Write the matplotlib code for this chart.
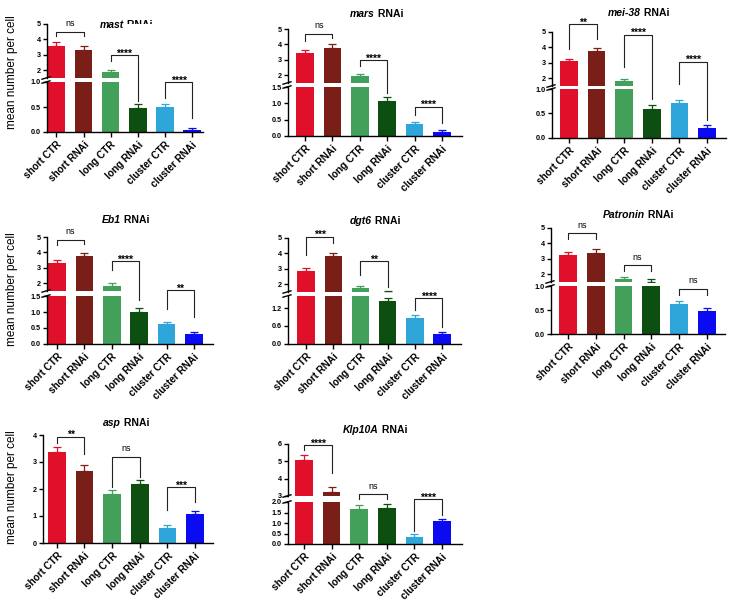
import numpy as np
import matplotlib
matplotlib.use("Agg")
import matplotlib.pyplot as plt
from matplotlib.lines import Line2D
from matplotlib.transforms import IdentityTransform

plt.rcParams["font.family"] = ["Liberation Sans", "DejaVu Sans"]
plt.rcParams["axes.linewidth"] = 1.0

W, H = 732, 604

# ─────────── data ───────────
groups = ["short CTR", "short RNAi", "long CTR", "long RNAi", "cluster CTR", "cluster RNAi"]
bar_colors = ["#e1102a", "#7a1f17", "#43a05b", "#0c4f10", "#2fa6da", "#0b0bf2"]

mast_mean = [3.60, 3.34, 1.90, 0.48, 0.50, 0.04]
mast_err = [0.21, 0.24, 0.10, 0.09, 0.06, 0.04]
mars_mean = [3.43, 3.79, 1.94, 1.06, 0.37, 0.13]
mars_err = [0.19, 0.21, 0.12, 0.12, 0.06, 0.05]
mei38_mean = [3.09, 3.79, 1.82, 0.60, 0.71, 0.21]
mei38_err = [0.16, 0.18, 0.11, 0.08, 0.06, 0.05]
eb1_mean = [3.30, 3.76, 1.85, 1.01, 0.63, 0.31]
eb1_err = [0.18, 0.22, 0.15, 0.13, 0.06, 0.07]
dgt6_mean = [2.84, 3.81, 1.78, 1.42, 0.88, 0.32]
dgt6_err = [0.23, 0.22, 0.13, 0.13, 0.08, 0.07]
patronin_mean = [3.22, 3.40, 1.71, 1.53, 0.62, 0.48]
patronin_err = [0.22, 0.22, 0.13, 0.14, 0.07, 0.07]
asp_mean = [3.36, 2.67, 1.81, 2.20, 0.56, 1.07]
asp_err = [0.18, 0.22, 0.15, 0.15, 0.10, 0.11]
klp10a_mean = [5.05, 3.25, 1.65, 1.73, 0.35, 1.10]
klp10a_err = [0.29, 0.27, 0.19, 0.16, 0.13, 0.09]

# brackets: (bar i, bar j, label, line height, left leg end, right leg end)
mast_sig = [(0, 1, "ns", 4.51, 4.19, 4.19), (2, 3, "****", 2.96, 2.6, 0.62),
            (4, 5, "****", 1.0, 0.69, 0.28)]
mars_sig = [(0, 1, "ns", 4.68, 4.25, 4.43), (2, 3, "****", 2.98, 2.62, 1.31),
            (4, 5, "****", 0.9, 0.65, 0.39)]
mei38_sig = [(0, 1, "**", 5.5, 3.91, 4.56), (2, 3, "****", 4.83, 2.7, 0.79),
             (4, 5, "****", 3.07, 1.6, 0.37)]
eb1_sig = [(0, 1, "ns", 4.83, 4.46, 4.52), (2, 3, "****", 3.42, 2.83, 1.37),
           (4, 5, "**", 1.55, 1.08, 0.85)]
dgt6_sig = [(0, 1, "***", 5.08, 3.88, 4.65), (2, 3, "**", 3.51, 2.6, 1.85),
            (4, 5, "****", 1.53, 1.12, 0.57)]
patronin_sig = [(0, 1, "ns", 4.67, 4.27, 4.27), (2, 3, "ns", 2.6, 2.22, 2.22),
                (4, 5, "ns", 0.94, 0.81, 0.81)]
asp_sig = [(0, 1, "**", 3.94, 3.71, 3.31), (2, 3, "ns", 3.2, 2.09, 2.46),
           (4, 5, "***", 2.06, 1.21, 1.52)]
klp10a_sig = [(0, 1, "****", 5.92, 5.67, 4.3), (2, 3, "ns", 3.1, 2.5, 2.5),
              (4, 5, "****", 2.5, 0.6, 1.4)]

# ─────────── layout (pixel positions in the 732x604 canvas) ───────────
panels = [
    dict(gene="mast", mean=mast_mean, err=mast_err, sig=mast_sig,
         x0=47, x1=203, xlim=(-0.35, 5.4), title=(100, 25),
         top=(24, 78), top_lim=(1.5, 5), top_ticks=[2, 3, 4, 5],
         bot=(82, 132), bot_lim=(0, 1.0), bot_ticks=[0, 0.5, 1.0]),
    dict(gene="mars", mean=mars_mean, err=mars_err, sig=mars_sig,
         x0=288, x1=462, xlim=(-0.62, 5.73), title=(350, 14),
         top=(29, 83), top_lim=(1.5, 5), top_ticks=[2, 3, 4, 5],
         bot=(87, 136), bot_lim=(0, 1.5), bot_ticks=[0, 0.5, 1.0, 1.5]),
    dict(gene="mei-38", mean=mei38_mean, err=mei38_err, sig=mei38_sig,
         x0=552, x1=726, xlim=(-0.62, 5.69), title=(608, 13),
         top=(32, 86), top_lim=(1.5, 5), top_ticks=[2, 3, 4, 5],
         bot=(89, 138), bot_lim=(0, 1.0), bot_ticks=[0, 0.5, 1.0]),
    dict(gene="Eb1", mean=eb1_mean, err=eb1_err, sig=eb1_sig,
         x0=47, x1=213, xlim=(-0.36, 5.69), title=(102, 220),
         top=(237, 291), top_lim=(1.5, 5), top_ticks=[2, 3, 4, 5],
         bot=(296, 344), bot_lim=(0, 1.5), bot_ticks=[0, 0.5, 1.0, 1.5]),
    dict(gene="dgt6", mean=dgt6_mean, err=dgt6_err, sig=dgt6_sig,
         x0=288, x1=461, xlim=(-0.66, 5.69), title=(350, 221),
         top=(238, 292), top_lim=(1.5, 5), top_ticks=[2, 3, 4, 5],
         bot=(296, 344), bot_lim=(0, 1.6), bot_ticks=[0, 0.6, 1.2]),
    dict(gene="Patronin", mean=patronin_mean, err=patronin_err, sig=patronin_sig,
         x0=551, x1=725, xlim=(-0.61, 5.65), title=(603, 215),
         top=(228, 282), top_lim=(1.5, 5), top_ticks=[2, 3, 4, 5],
         bot=(286, 334), bot_lim=(0, 1.0), bot_ticks=[0, 0.5, 1.0]),
    dict(gene="asp", mean=asp_mean, err=asp_err, sig=asp_sig,
         x0=43, x1=213, xlim=(-0.5, 5.65), title=(103, 423),
         top=None, top_lim=None, top_ticks=None,
         bot=(435, 543), bot_lim=(0, 4), bot_ticks=[0, 1, 2, 3, 4]),
    dict(gene="Klp10A", mean=klp10a_mean, err=klp10a_err, sig=klp10a_sig,
         x0=288, x1=462, xlim=(-0.58, 5.72), title=(343, 430),
         top=(444, 496), top_lim=(3, 6), top_ticks=[3, 4, 5, 6],
         bot=(502, 544), bot_lim=(0, 2.0), bot_ticks=[0, 0.5, 1.0, 1.5, 2.0]),
]
ylabel_rows = [72, 289, 487]

fig = plt.figure(figsize=(W / 100, H / 100), dpi=100)
ident = IdentityTransform()


def px_axes(x0, x1, ytop, ybot):
    return fig.add_axes([x0 / W, 1 - ybot / H, (x1 - x0) / W, (ybot - ytop) / H])


def style_axis(ax, ticks, fmt):
    ax.spines[["top", "right"]].set_visible(False)
    ax.set_yticks(ticks, [fmt.format(t) for t in ticks], fontsize=5.2, fontweight="bold")
    ax.tick_params(axis="y", length=3, width=1, pad=1.5)


def draw_bars(ax, mean, err):
    x = np.arange(len(mean))
    ax.bar(x, mean, width=0.64, color=bar_colors, zorder=2)
    for i in x:
        ax.errorbar(i, mean[i], yerr=[[0], [err[i]]], fmt="none", ecolor=bar_colors[i],
                    elinewidth=0.9, capsize=2.8, capthick=0.9, zorder=1)


def y_disp(p, ax_t, ax_b, v):
    if ax_t is None or v <= p["bot_lim"][1]:
        return ax_b.transData.transform((0, v))[1]
    if v >= p["top_lim"][0]:
        return ax_t.transData.transform((0, v))[1]
    lo, hi = p["bot_lim"][1], p["top_lim"][0]
    y0 = ax_b.transData.transform((0, lo))[1]
    y1 = ax_t.transData.transform((0, hi))[1]
    return y0 + (v - lo) / (hi - lo) * (y1 - y0)


for p in panels:
    ax_b = px_axes(p["x0"], p["x1"], *p["bot"])
    draw_bars(ax_b, p["mean"], p["err"])
    ax_b.set_xlim(p["xlim"])
    ax_b.set_ylim(p["bot_lim"])
    fmt = "{:.0f}" if p["top"] is None else "{:.1f}"
    style_axis(ax_b, p["bot_ticks"], fmt)
    ax_b.set_xticks(np.arange(6), groups, rotation=45, ha="right",
                    rotation_mode="anchor", fontsize=7.2, fontweight="bold")
    ax_b.tick_params(axis="x", length=3.5, width=1, pad=2)

    ax_t = None
    if p["top"] is not None:
        ax_t = px_axes(p["x0"], p["x1"], *p["top"])
        draw_bars(ax_t, p["mean"], p["err"])
        ax_t.set_xlim(p["xlim"])
        ax_t.set_ylim(p["top_lim"])
        style_axis(ax_t, p["top_ticks"], "{:.0f}")
        ax_t.spines["bottom"].set_visible(False)
        ax_t.set_xticks([])
        # break marks on the y axis
        xa = p["x0"]
        for yy in (p["top"][1], p["bot"][0]):
            yd = H - yy
            fig.add_artist(Line2D([xa - 5, xa + 3], [yd - 1.2, yd + 1.2], transform=ident,
                                  color="black", lw=1.0))

    # significance brackets
    for i, j, lab, yl, ya, yb in p["sig"]:
        xi = ax_b.transData.transform((i, 0))[0]
        xj = ax_b.transData.transform((j, 0))[0]
        yline = y_disp(p, ax_t, ax_b, yl)
        fig.add_artist(Line2D([xi, xi, xj, xj],
                              [y_disp(p, ax_t, ax_b, ya), yline, yline,
                               y_disp(p, ax_t, ax_b, yb)],
                              transform=ident, color="#222222", lw=0.8))
        if lab == "ns":
            fig.text((xi + xj) / 2, yline + 5.5, lab, transform=ident, ha="center",
                     va="baseline", fontsize=6.5)
        else:
            fig.text((xi + xj) / 2, yline - 1.5, lab, transform=ident, ha="center",
                     va="baseline", fontsize=7.5, fontweight="bold")

    # title: italic gene name + " RNAi"
    tx, ty = p["title"]
    t1 = fig.text(tx / W, 1 - ty / H, p["gene"], style="italic", fontweight="bold",
                  fontsize=7.5, ha="left", va="center")
    ax_b.annotate(" RNAi", xy=(1, 0.5), xycoords=t1, ha="left", va="center",
                  fontsize=7.5, fontweight="bold", annotation_clip=False)

for yc in ylabel_rows:
    fig.text(12 / W, 1 - yc / H, "mean number per cell", rotation=90,
             ha="center", va="center", fontsize=8.5)

fig.savefig("out.png", dpi=100)
